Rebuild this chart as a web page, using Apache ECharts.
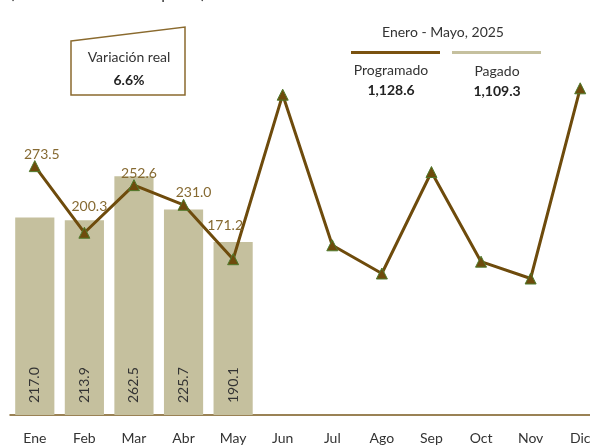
<!DOCTYPE html>
<html>
<head>
<meta charset="utf-8">
<script src="https://cdn.jsdelivr.net/npm/echarts@6/dist/echarts.min.js"></script>
<style>
  html, body { margin: 0; padding: 0; background: #fff; }
  #chart { width: 590px; height: 448px; }
</style>
</head>
<body>
<div id="chart"></div>
<script>
  const meses = ['Ene', 'Feb', 'Mar', 'Abr', 'May', 'Jun', 'Jul', 'Ago', 'Sep', 'Oct', 'Nov', 'Dic'];
  const pagado = [217.0, 213.9, 262.5, 225.7, 190.1, null, null, null, null, null, null, null];
  const programado = [273.5, 200.3, 252.6, 231.0, 171.2, 352.0, 186.5, 155.5, 267.0, 168.5, 150.0, 359.0];
  const mesesConDato = 5;
  const totalProgramado = '1,128.6';
  const totalPagado = '1,109.3';
  const variacionReal = '6.6%';

  const font = 'Lato, "DejaVu Sans", sans-serif';
  const cafe = '#6e4b0c';
  const beige = '#c5c09e';

  // desplazamientos de etiquetas de la linea (a mano, como en el original)
  const offsets = [[7, 0], [5, -14], [5, 0], [10, 0], [-8, -22]];

  const lineData = programado.map((v, i) => {
    if (i >= mesesConDato) return v;
    return { value: v, label: { show: true, offset: offsets[i] } };
  });

  const myChart = echarts.init(document.getElementById('chart'));

  const option = {
    backgroundColor: '#fff',
    animation: false,
    grid: { left: 10, width: 595, top: 51, bottom: 33, outerBoundsMode: 'none', containLabel: false },
    xAxis: {
      type: 'category',
      data: meses,
      axisLine: { lineStyle: { color: '#7a5a1e', width: 1.5 } },
      axisTick: { show: false },
      axisLabel: { color: '#333', fontSize: 14, fontFamily: font, margin: 16 }
    },
    yAxis: {
      type: 'value',
      min: 0,
      max: 400,
      show: false,
      splitLine: { show: false }
    },
    series: [
      {
        name: 'Pagado',
        type: 'bar',
        data: pagado,
        barCategoryGap: '21%',
        itemStyle: { color: beige },
        label: {
          show: true,
          position: 'insideBottom',
          rotate: 90,
          align: 'left',
          verticalAlign: 'middle',
          distance: 12,
          color: '#333',
          fontSize: 14,
          fontFamily: font,
          formatter: p => p.value.toFixed(1)
        }
      },
      {
        name: 'Programado',
        type: 'line',
        data: lineData,
        symbol: 'triangle',
        symbolSize: 11,
        lineStyle: { color: cafe, width: 3 },
        itemStyle: { color: cafe, borderColor: '#4f7a2c', borderWidth: 1 },
        label: {
          show: false,
          position: 'top',
          distance: -1,
          color: '#866a32',
          fontSize: 14,
          fontFamily: font,
          formatter: p => p.value.toFixed(1)
        },
        z: 3
      }
    ],
    graphic: [
      {
        type: 'text',
        left: 10,
        top: -14,
        style: { text: '(Miles de millones de pesos)', fill: '#333', font: '16px ' + font }
      },
      {
        type: 'polygon',
        shape: { points: [[71, 41], [185, 27], [185, 95], [71, 95]] },
        style: { fill: '#fff', stroke: '#8a6a2e', lineWidth: 1.5 }
      },
      {
        type: 'text',
        x: 129, y: 57,
        style: { text: 'Variación real', fill: '#333', font: '14px ' + font, align: 'center', verticalAlign: 'middle' }
      },
      {
        type: 'text',
        x: 129, y: 80,
        style: { text: variacionReal, fill: '#222', font: 'bold 14px ' + font, align: 'center', verticalAlign: 'middle' }
      },
      {
        type: 'text',
        x: 443, y: 32,
        style: { text: 'Enero - Mayo, 2025', fill: '#333', font: '14px ' + font, align: 'center', verticalAlign: 'middle' }
      },
      {
        type: 'rect',
        shape: { x: 351, y: 51, width: 89, height: 3 },
        style: { fill: '#7a5210' }
      },
      {
        type: 'rect',
        shape: { x: 452, y: 51, width: 89, height: 3 },
        style: { fill: beige }
      },
      {
        type: 'text',
        x: 391, y: 70,
        style: { text: 'Programado', fill: '#333', font: '14px ' + font, align: 'center', verticalAlign: 'middle' }
      },
      {
        type: 'text',
        x: 391, y: 90,
        style: { text: totalProgramado, fill: '#222', font: 'bold 14px ' + font, align: 'center', verticalAlign: 'middle' }
      },
      {
        type: 'text',
        x: 497, y: 71,
        style: { text: 'Pagado', fill: '#333', font: '14px ' + font, align: 'center', verticalAlign: 'middle' }
      },
      {
        type: 'text',
        x: 497, y: 91,
        style: { text: totalPagado, fill: '#222', font: 'bold 14px ' + font, align: 'center', verticalAlign: 'middle' }
      }
    ]
  };

  myChart.setOption(option);
</script>
</body>
</html>
